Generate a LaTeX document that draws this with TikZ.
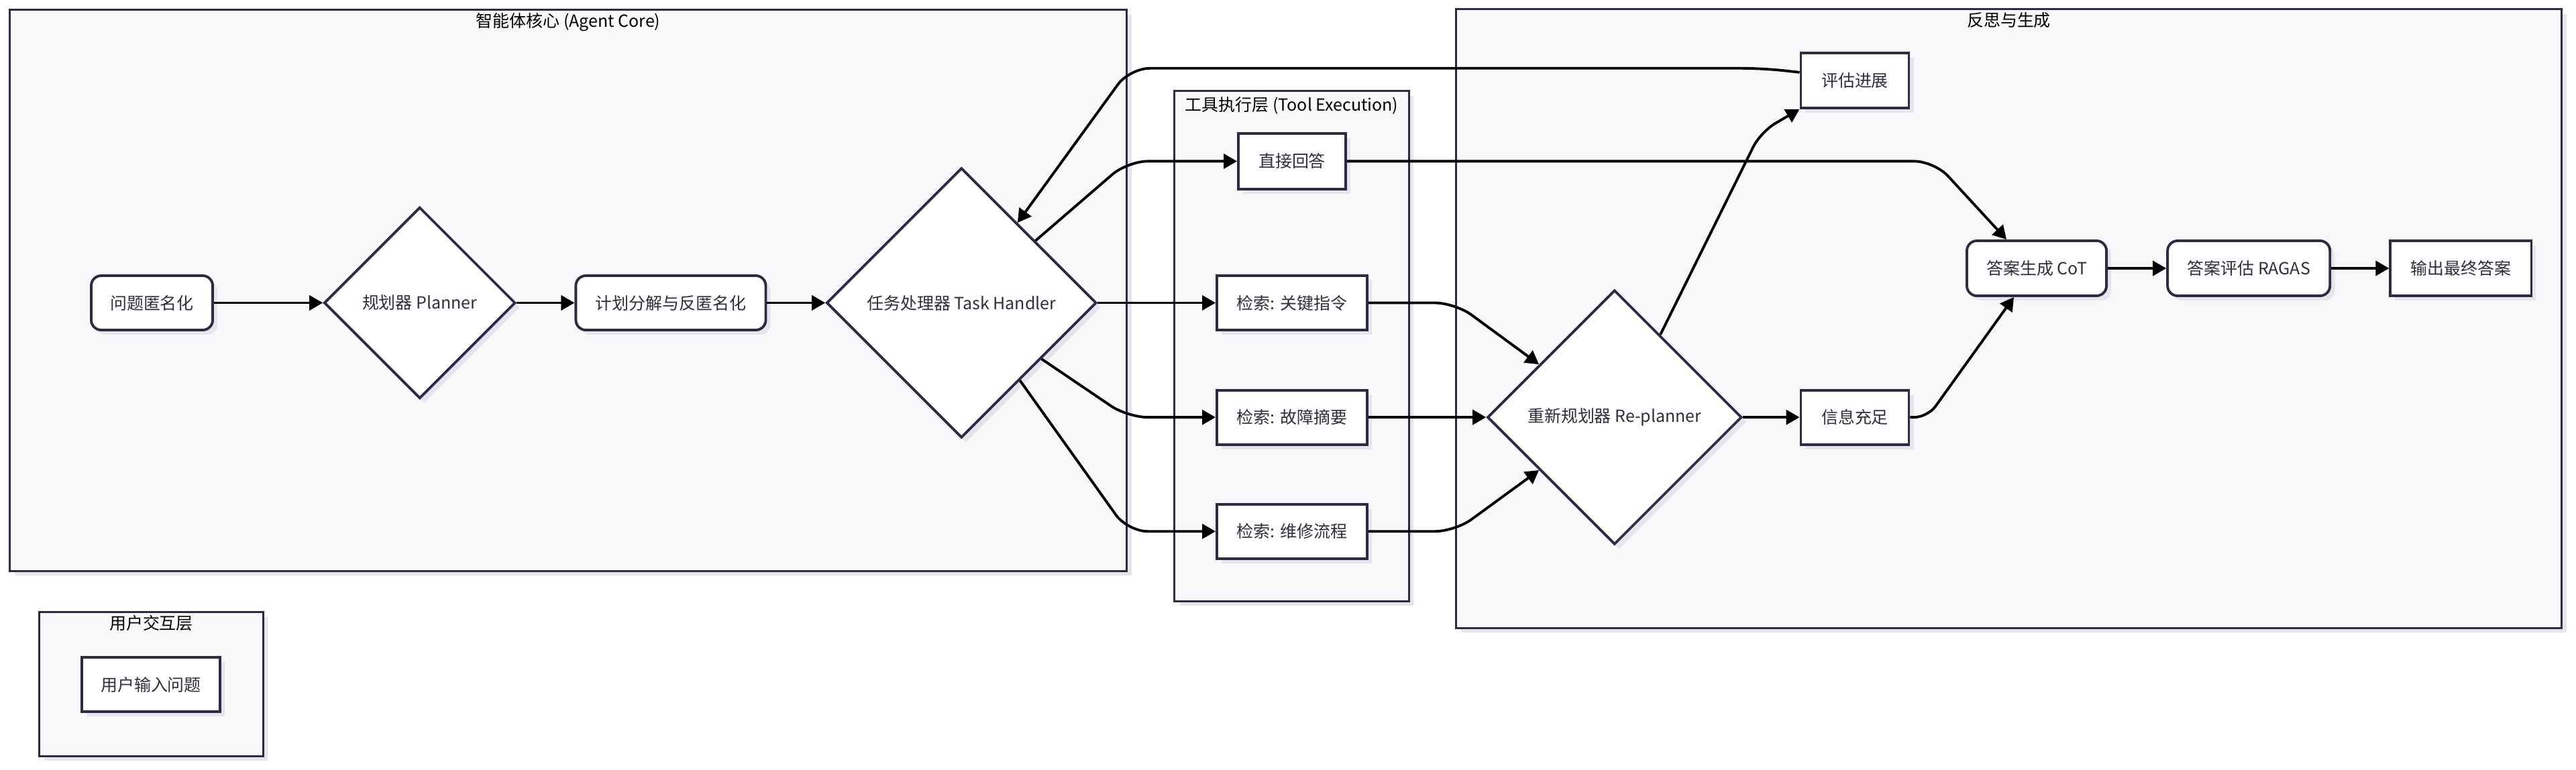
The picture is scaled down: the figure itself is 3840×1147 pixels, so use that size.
\documentclass[tikz,border=0pt]{standalone}
\usepackage{fontspec}
\setmainfont{Noto Sans CJK SC}
\usepackage{xcolor}
\usepackage{tikz}
\usetikzlibrary{positioning, shapes.geometric, shadows, arrows.meta}
\newcommand{\cfont}{\fontsize{7.1pt}{8.5pt}\selectfont}
\definecolor{c_line}{rgb}{0.17, 0.17, 0.27}
\definecolor{c_text}{rgb}{0.18, 0.18, 0.24}
\definecolor{c_group}{rgb}{0.973, 0.973, 0.98}
\definecolor{c_shadow}{rgb}{0.9, 0.9, 0.92}
\tikzset{c-shade/.style={drop shadow={shadow xshift=0.07cm, shadow yshift=-0.07cm, fill=c_shadow, opacity=1}},
c-box/.style={rectangle, minimum height=0.81cm, inner sep=0pt, draw=c_line, line width=1.1pt, fill=white, text=c_text, font=\cfont, c-shade},
c-round/.style={c-box, rounded corners=0.15cm},
c-diamond/.style={diamond, aspect=1, inner sep=0pt, minimum width=#1, minimum height=#1, draw=c_line, line width=1.1pt, fill=white, text=c_text, font=\cfont, c-shade},
c-cluster/.style={rectangle, draw=c_line, line width=0.85pt, fill=c_group, c-shade},
c-title/.style={inner sep=0pt, font=\cfont, text=black},
arrow/.style={line width=1.1pt, -{Triangle[length=0.2cm, width=0.22cm]}}}

\begin{document}
\begin{tikzpicture}[x=0.01cm, y=-0.01cm, node distance=2cm]
\useasboundingbox (0,0) rectangle (3840,1147);
% groups
\node (core) [c-cluster, minimum width=16.64cm, minimum height=8.36cm] at (847,433) {};
\node (core-t) [c-title, below=0.055cm of core.north] {智能体核心 (Agent Core)};
\node (tool) [c-cluster, minimum width=3.49cm, minimum height=7.6cm] at (1925.5,516) {};
\node (tool-t) [c-title, below=0.09cm of tool.north] {工具执行层 (Tool Execution)};
\node (refl) [c-cluster, minimum width=16.47cm, minimum height=9.22cm] at (2994.5,475) {};
\node (refl-t) [c-title, below=0.055cm of refl.north] {反思与生成};
\node (user) [c-cluster, minimum width=3.33cm, minimum height=2.14cm] at (225.5,1020) {};
\node (user-t) [c-title, below=0.055cm of user.north] {用户交互层};
% agent core
\node (qa) [c-round, minimum width=1.81cm] at (226.5,451.5) {问题匿名化};
\node (pl) [c-diamond=2.85cm, right of=qa, xshift=1.99cm] {规划器 Planner};
\node (jh) [c-round, minimum width=2.83cm, right of=pl, xshift=1.74cm] {计划分解与反匿名化};
\node (th) [c-diamond=4.02cm, right of=jh, xshift=2.33cm] {任务处理器 Task Handler};
% tool execution
\node (k1) [c-box, minimum width=2.24cm, right of=th, xshift=2.925cm] {检索: 关键指令};
\node (zd) [c-box, minimum width=1.6cm, minimum height=0.83cm, above of=k1, yshift=0.11cm] {直接回答};
\node (k2) [c-box, minimum width=2.24cm, below of=k1, yshift=0.295cm] {检索: 故障摘要};
\node (k3) [c-box, minimum width=2.24cm, below of=k2, yshift=0.3cm] {检索: 维修流程};
% reflection
\node (rp) [c-diamond=3.79cm, right of=k2, xshift=2.805cm] {重新规划器 Re-planner};
\node (ok) [c-box, minimum width=1.61cm, right of=rp, xshift=1.58cm] {信息充足};
\node (pj) [c-box, minimum width=1.61cm, minimum height=0.82cm, above of=ok, yshift=3.02cm] {评估进展};
\node (cot) [c-round, minimum width=2.08cm, minimum height=0.82cm] at (3036,400) {答案生成 CoT};
\node (rg) [c-round, minimum width=2.42cm, minimum height=0.82cm, right of=cot, xshift=1.16cm] {答案评估 RAGAS};
\node (out) [c-box, minimum width=2.1cm, minimum height=0.82cm, right of=rg, xshift=1.16cm] {输出最终答案};
% user
\node (ui) [c-box, minimum width=2.06cm] at (225,1020.5) {用户输入问题};

\draw [arrow] (qa) -- (pl);
\draw [arrow] (pl) -- (jh);
\draw [arrow] (jh) -- (th);
\draw [arrow, rounded corners=0.3cm] (th.40) -- (zd.west -| core.east) -- (zd.west);
\draw [arrow] (th) -- (k1);
\draw [arrow, rounded corners=0.3cm] (th.-35) -- (k2.west -| core.east) -- (k2.west);
\draw [arrow, rounded corners=0.3cm] (th.-53) -- (k3.west -| core.east) -- (k3.west);
\draw [arrow, rounded corners=0.3cm] (k1.east) -- (k1.east -| refl.west) -- (rp.145);
\draw [arrow] (k2) -- (rp);
\draw [arrow, rounded corners=0.3cm] (k3.east) -- (k3.east -| refl.west) -- (rp.215);
\draw [arrow, rounded corners=0.25cm] (rp.61) -- ([xshift=-0.58cm, yshift=-0.34cm]pj.south west) -- (pj.south west);
\draw [arrow, rounded corners=0.3cm] ([yshift=0.12cm]pj.west) -- ++(-0.55cm,0.06cm) -- ++(-9.43cm,0) -- (th.55);
\draw [arrow] (rp) -- (ok);
\draw [arrow, rounded corners=0.3cm] (zd.east) -- ++(8.75cm,0) -- ([xshift=-0.45cm]cot.north);
\draw [arrow, rounded corners=0.2cm] (ok.east) -- ++(0.26cm,0) -- ([xshift=-0.34cm]cot.south);
\draw [arrow] (cot) -- (rg);
\draw [arrow] (rg) -- (out);
\end{tikzpicture}
\end{document}
